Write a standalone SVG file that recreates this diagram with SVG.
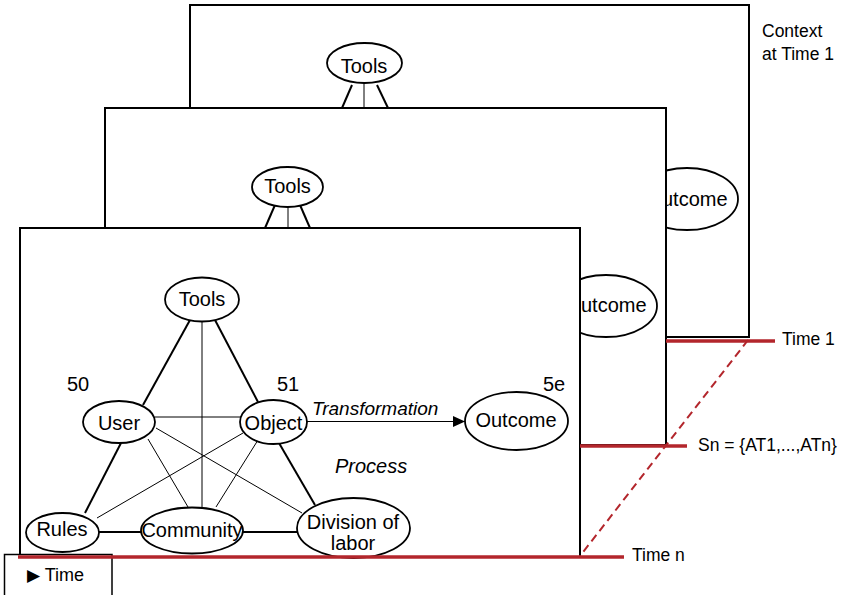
<svg xmlns="http://www.w3.org/2000/svg" width="842" height="595" viewBox="0 0 842 595">
<style>
  text { font-family: "Liberation Sans", Arial, sans-serif; fill: #000; }
  .lbl { font-size: 20px; text-anchor: middle; }
  .side { font-size: 17.5px; }
  .num { font-size: 20px; }
  .it { font-style: italic; }
  .frame { fill: #fff; stroke: #000; stroke-width: 2; }
  .node { fill: #fff; stroke: #000; stroke-width: 1.8; }
  .thick { stroke: #000; stroke-width: 2; fill: none; }
  .thin { stroke: #000; stroke-width: 1; fill: none; }
  .red { stroke: #b3262c; stroke-width: 3.5; fill: none; }
  .dash { stroke: #b3262c; stroke-width: 2; stroke-dasharray: 8 5; fill: none; }
</style>
<defs>
  <marker id="arrow" viewBox="0 0 12 11" refX="12" refY="5.5" markerWidth="12" markerHeight="11" markerUnits="userSpaceOnUse" orient="auto">
    <path d="M0,0 L12,5.5 L0,11 Z" fill="#000"/>
  </marker>
</defs>

<!-- Back layer: Context at Time 1 -->
<g id="frame-time1">
  <rect class="frame" x="190" y="5" width="559" height="332"/>
  <g id="t1-connectors">
    <line class="thick" x1="352" y1="85" x2="342" y2="108"/>
    <line class="thin" x1="364" y1="83" x2="364" y2="108"/>
    <line class="thick" x1="377" y1="85" x2="388" y2="108"/>
  </g>
  <g id="t1-tools">
    <ellipse class="node" cx="364.5" cy="63" rx="37.5" ry="20"/>
    <text class="lbl" x="364" y="73">Tools</text>
  </g>
  <g id="t1-outcome">
    <ellipse class="node" cx="687" cy="199" rx="51" ry="31"/>
    <text class="lbl" x="687" y="206">Outcome</text>
  </g>
</g>
<g id="label-context">
  <text class="side" x="762" y="37">Context</text>
  <text class="side" x="762" y="60">at Time 1</text>
</g>

<!-- Middle layer -->
<g id="frame-middle">
  <rect class="frame" x="105" y="108" width="561" height="337"/>
  <g id="mid-connectors">
    <line class="thick" x1="275" y1="205" x2="265" y2="228"/>
    <line class="thin" x1="288" y1="207" x2="288" y2="228"/>
    <line class="thick" x1="300" y1="205" x2="310" y2="228"/>
  </g>
  <g id="mid-tools">
    <ellipse class="node" cx="287.5" cy="187" rx="35.5" ry="20"/>
    <text class="lbl" x="287.5" y="193">Tools</text>
  </g>
  <g id="mid-outcome">
    <ellipse class="node" cx="606" cy="306" rx="51" ry="31"/>
    <text class="lbl" x="606" y="312">Outcome</text>
  </g>
</g>

<!-- Front layer: Time n -->
<g id="frame-front">
  <rect class="frame" x="20" y="228" width="560" height="329"/>
</g>

<g id="connectors">
  <!-- thick triangle edges -->
  <line class="thick" x1="190" y1="320" x2="143" y2="405"/>
  <line class="thick" x1="215" y1="320" x2="258" y2="402"/>
  <line class="thick" x1="121" y1="443" x2="85" y2="513"/>
  <line class="thick" x1="279" y1="443" x2="315" y2="505"/>
  <line class="thick" x1="99" y1="532" x2="141" y2="532"/>
  <line class="thick" x1="243" y1="532" x2="297" y2="532"/>
  <!-- thin inner edges -->
  <line class="thin" x1="202" y1="321" x2="202" y2="507"/>
  <line class="thin" x1="155" y1="417" x2="241" y2="417"/>
  <line class="thin" x1="148" y1="439" x2="188" y2="507"/>
  <line class="thin" x1="258" y1="440" x2="216" y2="507"/>
  <line class="thin" x1="156" y1="428" x2="302" y2="513"/>
  <line class="thin" x1="243" y1="433" x2="97" y2="518"/>
  <!-- transformation arrow -->
  <line class="thin" x1="307" y1="421.5" x2="465" y2="421.5" marker-end="url(#arrow)"/>
  <!-- time lines -->
  <line class="red" x1="666" y1="341" x2="775" y2="341"/>
  <line class="red" x1="580" y1="446" x2="687" y2="446"/>
  <line class="dash" x1="748" y1="340" x2="580" y2="556"/>
</g>

<g id="node-tools">
  <ellipse class="node" cx="202" cy="299.5" rx="37" ry="22"/>
  <text class="lbl" x="202" y="306">Tools</text>
</g>
<g id="node-user">
  <ellipse class="node" cx="119" cy="422" rx="36" ry="21"/>
  <text class="lbl" x="119" y="430">User</text>
</g>
<g id="node-object">
  <ellipse class="node" cx="273.5" cy="422" rx="33.5" ry="22"/>
  <text class="lbl" x="273.5" y="430">Object</text>
</g>
<g id="node-outcome">
  <ellipse class="node" cx="516.5" cy="421" rx="51.5" ry="29"/>
  <text class="lbl" x="516" y="427">Outcome</text>
</g>
<g id="node-rules">
  <ellipse class="node" cx="62.5" cy="532.5" rx="36.5" ry="19.5"/>
  <text class="lbl" x="62" y="536">Rules</text>
</g>
<g id="node-community">
  <ellipse class="node" cx="192" cy="530.5" rx="51" ry="23"/>
  <text class="lbl" x="192" y="537">Community</text>
</g>
<g id="node-division">
  <ellipse class="node" cx="353.5" cy="528" rx="56.5" ry="30"/>
  <text class="lbl" x="353" y="529">Division of</text>
  <text class="lbl" x="353" y="550">labor</text>
</g>

<g id="labels">
  <text class="num" x="67" y="391">50</text>
  <text class="num" x="277" y="391">51</text>
  <text class="num" x="543" y="391">5e</text>
  <text class="it" x="312" y="415" style="font-size:19px">Transformation</text>
  <text class="it" x="335" y="473" style="font-size:20px">Process</text>
</g>

<g id="time-box">
  <rect x="4.5" y="554.5" width="107.5" height="42" fill="#fff" stroke="#000" stroke-width="1.5"/>
  <text x="27" y="581" style="font-size:18px"><tspan style="font-family:'DejaVu Sans', sans-serif; font-size:17px">▶</tspan> Time</text>
</g>

<g id="time-n-line">
  <line class="red" x1="18" y1="557" x2="624" y2="557"/>
</g>

<g id="time-labels">
  <text class="side" x="782" y="345">Time 1</text>
  <text class="side" x="698" y="451">Sn = {AT1,...,ATn}</text>
  <text class="side" x="632" y="561">Time n</text>
</g>
</svg>
